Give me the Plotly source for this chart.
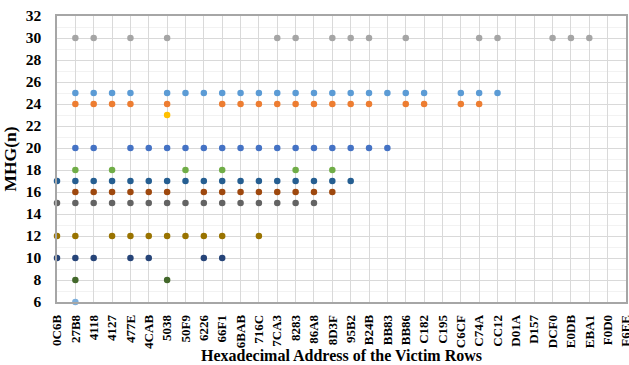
import plotly.graph_objects as go

# Victim row addresses (hex)
rows = ["0C6B", "27B8", "4118", "4127", "477E", "4CAB", "5038", "50F9",
        "6226", "66F1", "6BAB", "716C", "7CA3", "8283", "86A8", "8D3F",
        "95B2", "B24B", "BB83", "BB86", "C182", "C195", "C6CF", "C74A",
        "CC12", "D01A", "D157", "DCF0", "E0DB", "EBA1", "F0D0", "F6EE"]

# Rows that reach each MHG(n) level
mhg30 = ["27B8", "4118", "477E", "5038", "7CA3", "8283", "8D3F", "95B2",
         "B24B", "BB86", "C74A", "CC12", "DCF0", "E0DB", "EBA1"]
mhg25 = ["27B8", "4118", "4127", "477E", "5038", "50F9", "6226", "66F1",
         "6BAB", "716C", "7CA3", "8283", "86A8", "8D3F", "95B2", "B24B",
         "BB83", "BB86", "C182", "C6CF", "C74A", "CC12"]
mhg24 = ["27B8", "4118", "4127", "477E", "5038", "66F1", "6BAB", "716C",
         "7CA3", "8283", "86A8", "8D3F", "95B2", "B24B", "BB86", "C182",
         "C6CF", "C74A"]
mhg23 = ["5038"]
mhg20 = ["27B8", "4118", "477E", "4CAB", "5038", "50F9", "6226", "66F1",
         "6BAB", "716C", "7CA3", "8283", "86A8", "8D3F", "95B2", "B24B",
         "BB83"]
mhg18 = ["27B8", "4127", "50F9", "66F1", "8283", "8D3F"]
mhg17 = ["0C6B", "27B8", "4118", "4127", "477E", "4CAB", "5038", "50F9",
         "6226", "66F1", "6BAB", "716C", "7CA3", "8283", "86A8", "8D3F",
         "95B2"]
mhg16 = ["27B8", "4118", "4127", "477E", "4CAB", "5038", "6226", "66F1",
         "6BAB", "716C", "7CA3", "8283", "86A8", "8D3F"]
mhg15 = ["0C6B", "27B8", "4118", "4127", "477E", "4CAB", "5038", "50F9",
         "6226", "66F1", "6BAB", "716C", "7CA3", "8283", "86A8"]
mhg12 = ["0C6B", "27B8", "4127", "477E", "4CAB", "5038", "50F9", "6226",
         "66F1", "716C"]
mhg10 = ["0C6B", "27B8", "4118", "477E", "4CAB", "6226", "66F1"]
mhg8 = ["27B8", "5038"]
mhg6 = ["27B8"]

series = [
    (30, mhg30, "#A5A5A5"),
    (25, mhg25, "#5B9BD5"),
    (24, mhg24, "#ED7D31"),
    (23, mhg23, "#FFC000"),
    (20, mhg20, "#4472C4"),
    (18, mhg18, "#70AD47"),
    (17, mhg17, "#255E91"),
    (16, mhg16, "#9E480E"),
    (15, mhg15, "#636363"),
    (12, mhg12, "#997300"),
    (10, mhg10, "#264478"),
    (8, mhg8, "#43682B"),
    (6, mhg6, "#7CAFDD"),
]

fig = go.Figure()
for level, xs, color in series:
    fig.add_trace(go.Scatter(
        x=xs, y=[level] * len(xs), mode="markers", name=f"MHG={level}",
        marker=dict(size=6.5, color=color, line=dict(width=0)),
        cliponaxis=False, showlegend=False,
    ))

font_family = "Liberation Serif, Times New Roman, serif"
plot_h = 365 - 16 - 63

fig.update_layout(
    width=629, height=365,
    margin=dict(l=57, r=3, t=16, b=63),
    plot_bgcolor="white", paper_bgcolor="white",
    font=dict(family=font_family, color="black"),
    xaxis=dict(
        type="category", categoryorder="array", categoryarray=rows,
        tickmode="array", tickvals=rows, ticktext=rows,
        range=[0, len(rows) - 1],
        tickangle=-90, tickfont=dict(size=13, family=font_family, weight="bold"),
        ticks="", ticklabelstandoff=6,
        showgrid=True, gridcolor="#D9D9D9", gridwidth=1,
        showline=True, linecolor="#A6A6A6", linewidth=1.5, mirror=True,
        zeroline=False, automargin=False,
    ),
    yaxis=dict(
        range=[6, 32], dtick=2, tick0=6,
        tickfont=dict(size=15.5, family=font_family, weight="bold"),
        ticks="", ticklabelstandoff=11,
        showgrid=True, gridcolor="#D9D9D9", gridwidth=1,
        minor=dict(dtick=1, showgrid=True, gridcolor="#F2F2F2"),
        showline=True, linecolor="#A6A6A6", linewidth=1.5, mirror=True,
        zeroline=False, automargin=False,
        title=dict(text="<b>MHG(n)</b>", font=dict(size=17.5, family=font_family),
                   standoff=7),
    ),
    annotations=[dict(
        text="<b>Hexadecimal Address of the Victim Rows</b>",
        xref="paper", yref="paper", x=0.5, y=-53 / plot_h,
        xanchor="center", yanchor="middle", showarrow=False,
        font=dict(size=16, family=font_family, color="black"),
    )],
)

fig.write_html("out.html")
